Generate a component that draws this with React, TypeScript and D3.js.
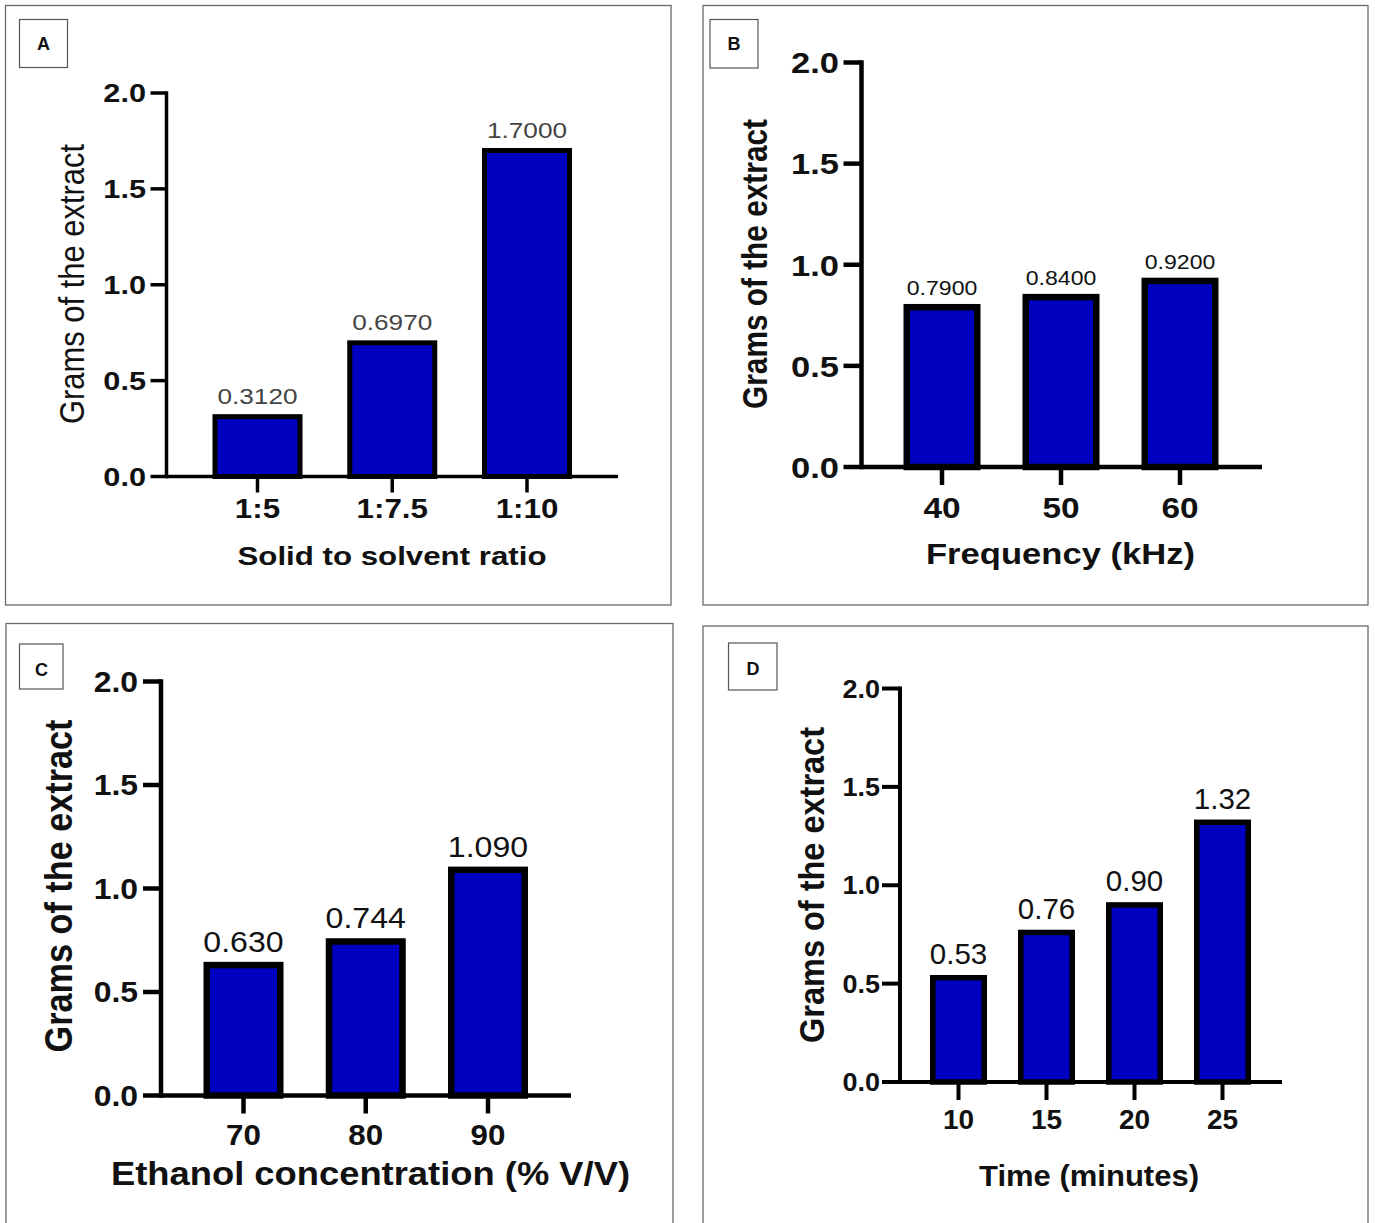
import React from "react";
import * as d3 from "d3";

// ---------- data ----------
const yTickValues = [0, 0.5, 1.0, 1.5, 2.0];
const yAxisTitle = "Grams of the extract";

const catsA = ["1:5", "1:7.5", "1:10"];
const valuesA = [0.312, 0.697, 1.7];
const titleA = "Solid to solvent ratio";

const catsB = ["40", "50", "60"];
const valuesB = [0.79, 0.84, 0.92];
const titleB = "Frequency (kHz)";

const catsC = ["70", "80", "90"];
const valuesC = [0.63, 0.744, 1.09];
const titleC = "Ethanol concentration (% V/V)";

const catsD = ["10", "15", "20", "25"];
const valuesD = [0.53, 0.76, 0.9, 1.32];
const titleD = "Time (minutes)";

const FONT = "'Liberation Sans', Arial, Helvetica, sans-serif";
const BAR_FILL = "#0000c0";

type Layout = {
  letter: string;
  frame: [number, number, number, number];
  box: [number, number, number, number];
  letterPos: [number, number];
  axisX: number;
  y0: number;
  y2: number;
  xEnd: number;
  c0: number;
  c1: number;
  barW: number;
  barSW: number;
  axisSW: number;
  tickLen: number;
  yTick: { size: number; sx: number; right: number };
  barLbl: { size: number; sx: number; gap: number; fill: string; fmt: string };
  xTick: { size: number; sx: number; base: number };
  xTitle: { size: number; base: number; len: number; cx: number };
  yTitle: { size: number; weight: string; base: number; cy: number; len: number; sy: number };
};

const panels: { cats: string[]; values: number[]; title: string; L: Layout }[] = [
  {
    cats: catsA,
    values: valuesA,
    title: titleA,
    L: {
      letter: "A",
      frame: [5.5, 5.5, 671, 605],
      box: [19.5, 19.5, 67.5, 67.5],
      letterPos: [43.5, 44],
      axisX: 166.5,
      y0: 476.5,
      y2: 93,
      xEnd: 618,
      c0: 257.5,
      c1: 527,
      barW: 90,
      barSW: 5,
      axisSW: 3.5,
      tickLen: 16,
      yTick: { size: 26, sx: 1.18, right: 146 },
      barLbl: { size: 22, sx: 1.19, gap: 13, fill: "#444", fmt: ".4f" },
      xTick: { size: 28, sx: 1.12, base: 518 },
      xTitle: { size: 26, base: 565, len: 309, cx: 392 },
      yTitle: { size: 31, weight: "normal", base: 84, cy: 284, len: 280, sy: 1.13 },
    },
  },
  {
    cats: catsB,
    values: valuesB,
    title: titleB,
    L: {
      letter: "B",
      frame: [703, 5.5, 1368, 605],
      box: [710, 19.5, 758, 68],
      letterPos: [734, 43.5],
      axisX: 861.5,
      y0: 467,
      y2: 62.5,
      xEnd: 1262,
      c0: 942,
      c1: 1180,
      barW: 77,
      barSW: 6.5,
      axisSW: 4.5,
      tickLen: 18,
      yTick: { size: 30, sx: 1.15, right: 839 },
      barLbl: { size: 21, sx: 1.1, gap: 12, fill: "#111", fmt: ".4f" },
      xTick: { size: 29, sx: 1.15, base: 518 },
      xTitle: { size: 30, base: 564, len: 269, cx: 1060.5 },
      yTitle: { size: 30, weight: "bold", base: 767, cy: 264, len: 290, sy: 1.15 },
    },
  },
  {
    cats: catsC,
    values: valuesC,
    title: titleC,
    L: {
      letter: "C",
      frame: [6, 623.5, 673, 1260],
      box: [19.5, 644, 63, 689],
      letterPos: [41.4, 670],
      axisX: 161,
      y0: 1095.5,
      y2: 681.5,
      xEnd: 571,
      c0: 243.5,
      c1: 488,
      barW: 80,
      barSW: 6.5,
      axisSW: 4.5,
      tickLen: 18,
      yTick: { size: 29, sx: 1.1, right: 138 },
      barLbl: { size: 30, sx: 1.07, gap: 13, fill: "#111", fmt: ".3f" },
      xTick: { size: 29, sx: 1.08, base: 1145 },
      xTitle: { size: 33, base: 1185, len: 519, cx: 370.5 },
      yTitle: { size: 34, weight: "bold", base: 72, cy: 886, len: 333, sy: 1.15 },
    },
  },
  {
    cats: catsD,
    values: valuesD,
    title: titleD,
    L: {
      letter: "D",
      frame: [703, 626, 1368, 1260],
      box: [728.5, 643, 777, 690],
      letterPos: [753, 669],
      axisX: 900,
      y0: 1082,
      y2: 688.5,
      xEnd: 1282,
      c0: 958.5,
      c1: 1222.5,
      barW: 57,
      barSW: 5.5,
      axisSW: 4,
      tickLen: 18,
      yTick: { size: 25, sx: 1.08, right: 880 },
      barLbl: { size: 29.5, sx: 1.0, gap: 13.5, fill: "#111", fmt: ".2f" },
      xTick: { size: 28, sx: 1.0, base: 1129 },
      xTitle: { size: 30, base: 1186, len: 220, cx: 1089 },
      yTitle: { size: 32.5, weight: "bold", base: 824, cy: 885, len: 316, sy: 1.07 },
    },
  },
];

function Panel({ cats, values, title, L }: { cats: string[]; values: number[]; title: string; L: Layout }) {
  const y = d3.scaleLinear().domain([0, 2]).range([L.y0, L.y2]);
  const x = d3.scalePoint<string>().domain(cats).range([L.c0, L.c1]);
  const fmtTick = d3.format(".1f");
  const fmtBar = d3.format(L.barLbl.fmt);
  const [fx0, fy0, fx1, fy1] = L.frame;
  const [bx0, by0, bx1, by1] = L.box;
  const inner = L.barW - L.barSW;
  return (
    <g>
      <rect x={fx0} y={fy0} width={fx1 - fx0} height={fy1 - fy0} fill="#fff" stroke="#6a6a6a" strokeWidth={1.3} />
      <rect x={bx0} y={by0} width={bx1 - bx0} height={by1 - by0} fill="#fff" stroke="#555" strokeWidth={1.2} />
      <text x={L.letterPos[0]} y={L.letterPos[1]} dy="0.36em" textAnchor="middle" fontFamily={FONT} fontWeight="bold" fontSize={18} fill="#111">
        {L.letter}
      </text>

      {/* bars */}
      {values.map((v, i) => {
        const cx = x(cats[i]) as number;
        return (
          <rect
            key={"b" + i}
            x={cx - inner / 2}
            y={y(v)}
            width={inner}
            height={y(0) - y(v)}
            fill={BAR_FILL}
            stroke="#000"
            strokeWidth={L.barSW}
          />
        );
      })}

      {/* bar value labels */}
      {values.map((v, i) => {
        const cx = x(cats[i]) as number;
        return (
          <text
            key={"l" + i}
            transform={`translate(${cx},${y(v) - L.barLbl.gap}) scale(${L.barLbl.sx},1)`}
            textAnchor="middle"
            fontFamily={FONT}
            fontSize={L.barLbl.size}
            fill={L.barLbl.fill}
          >
            {fmtBar(v)}
          </text>
        );
      })}

      {/* y axis */}
      <line x1={L.axisX} x2={L.axisX} y1={y(2) - L.axisSW / 2} y2={y(0) + L.axisSW / 2} stroke="#000" strokeWidth={L.axisSW} />
      {yTickValues.map((t) => (
        <g key={"yt" + t}>
          <line x1={L.axisX - L.tickLen} x2={L.axisX} y1={y(t)} y2={y(t)} stroke="#000" strokeWidth={L.axisSW} />
          <text
            transform={`translate(${L.yTick.right},${y(t)}) scale(${L.yTick.sx},1)`}
            dy="0.36em"
            textAnchor="end"
            fontFamily={FONT}
            fontWeight="bold"
            fontSize={L.yTick.size}
            fill="#111"
          >
            {fmtTick(t)}
          </text>
        </g>
      ))}

      {/* x axis */}
      <line x1={L.axisX} x2={L.xEnd} y1={y(0)} y2={y(0)} stroke="#000" strokeWidth={L.axisSW} />
      {cats.map((c) => (
        <g key={"xt" + c}>
          <line x1={x(c) as number} x2={x(c) as number} y1={y(0)} y2={y(0) + L.tickLen} stroke="#000" strokeWidth={L.axisSW} />
          <text
            transform={`translate(${x(c)},${L.xTick.base}) scale(${L.xTick.sx},1)`}
            textAnchor="middle"
            fontFamily={FONT}
            fontWeight="bold"
            fontSize={L.xTick.size}
            fill="#111"
          >
            {c}
          </text>
        </g>
      ))}

      {/* x title */}
      <text
        x={L.xTitle.cx}
        y={L.xTitle.base}
        textAnchor="middle"
        fontFamily={FONT}
        fontWeight="bold"
        fontSize={L.xTitle.size}
        textLength={L.xTitle.len}
        lengthAdjust="spacingAndGlyphs"
        fill="#111"
      >
        {title}
      </text>

      {/* y title */}
      <text
        transform={`translate(${L.yTitle.base},${L.yTitle.cy}) rotate(-90) scale(1,${L.yTitle.sy})`}
        x={-L.yTitle.len / 2}
        y={0}
        textAnchor="start"
        fontFamily={FONT}
        fontWeight={L.yTitle.weight}
        fontSize={L.yTitle.size}
        textLength={L.yTitle.len}
        lengthAdjust="spacingAndGlyphs"
        fill="#111"
      >
        {yAxisTitle}
      </text>
    </g>
  );
}

export default function App() {
  return (
    <svg
      width={1375}
      height={1223}
      viewBox="0 0 1375 1223"
      style={{ position: "absolute", left: 0, top: 0, background: "#fff" }}
    >
      <rect x={0} y={0} width={1375} height={1223} fill="#fff" />
      {panels.map((p) => (
        <Panel key={p.L.letter} cats={p.cats} values={p.values} title={p.title} L={p.L} />
      ))}
    </svg>
  );
}
